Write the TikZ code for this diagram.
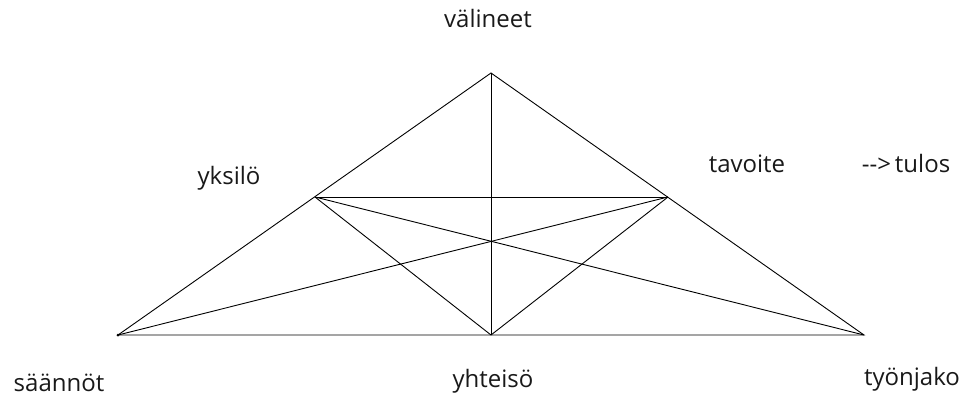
\documentclass[tikz,border=0pt]{standalone}
\usepackage{fontspec}
\setmainfont{Open Sans}
\begin{document}
\begin{tikzpicture}[x=1pt,y=-1pt,
  lbl/.style={anchor=base,inner sep=0pt,font=\fontsize{24}{28}\selectfont,text=black!90},
  edge/.style={line width=0.9pt,black}]
\useasboundingbox (0,0) rectangle (969,396);
\coordinate (top) at (491,73);
\coordinate (bl) at (118,335);
\coordinate (br) at (864,335);
\coordinate (bm) at (491,335);
\coordinate (ml) at (315,197);
\coordinate (mr) at (668,197);
\draw[edge] (top) -- (bl) -- (br) -- cycle;
\draw[edge] (top) -- (bm);
\draw[edge] (ml) -- (mr);
\draw[edge] (ml) -- (br);
\draw[edge] (mr) -- (bl);
\draw[edge] (ml) -- (bm);
\draw[edge] (mr) -- (bm);
\fill (bl) circle (1.5);
\node[lbl] (v) at (488,28) {välineet};
\node[lbl] (y) at (229,184) {yksilö};
\node[lbl] (t) at (747,172) {tavoite};
\node[lbl] (tu) at (906,172) {-{}->\,tulos};
\node[lbl] (s) at (59,391) {säännöt};
\node[lbl] (yh) at (493,387) {yhteisö};
\node[lbl] (ty) at (912,385) {työnjako};
\end{tikzpicture}
\end{document}
